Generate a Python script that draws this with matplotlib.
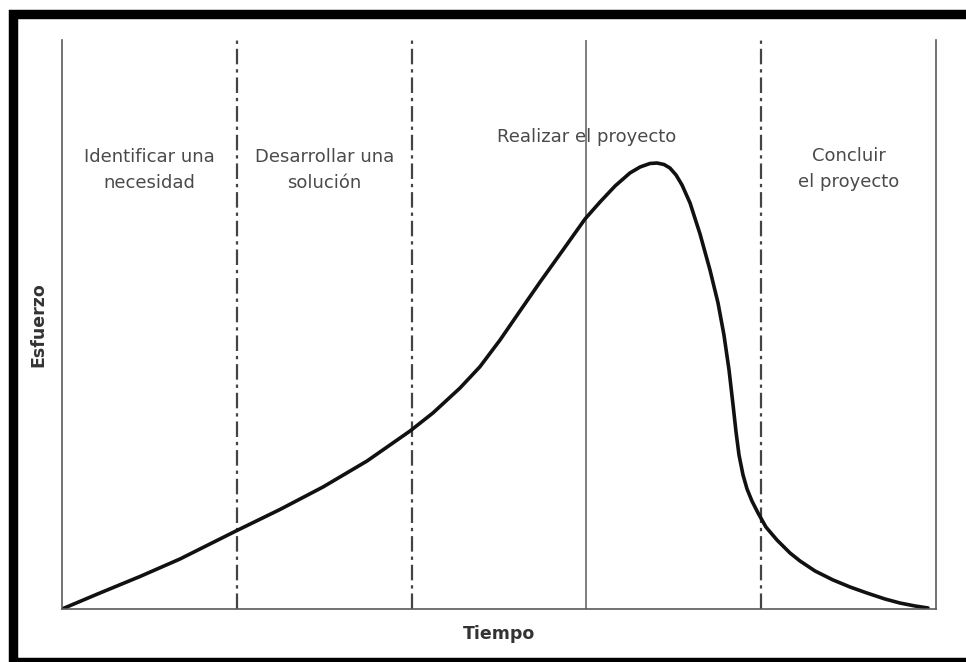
import matplotlib
matplotlib.use("Agg")
import matplotlib.pyplot as plt
from matplotlib import font_manager
from matplotlib.patches import Rectangle

# Curva de esfuerzo a lo largo del tiempo (5 fases de ancho 1)
tiempo = [0.000, 0.217, 0.446, 0.675, 0.995, 1.247, 1.493, 1.745, 1.991, 2.122,
          2.277, 2.391, 2.506, 2.620, 2.735, 2.866, 2.992, 3.078, 3.164, 3.249,
          3.307, 3.364, 3.404, 3.444, 3.478, 3.513, 3.547, 3.593, 3.650, 3.707,
          3.753, 3.787, 3.816, 3.839, 3.856, 3.873, 3.896, 3.919, 3.947, 3.982,
          4.027, 4.090, 4.165, 4.222, 4.308, 4.411, 4.508, 4.605, 4.708, 4.794,
          4.880, 4.954]
esfuerzo = [0.00, 2.81, 5.71, 8.79, 13.71, 17.49, 21.44, 26.01, 31.28, 34.45,
            38.84, 42.58, 47.28, 52.37, 57.47, 63.09, 68.54, 71.53, 74.34, 76.63,
            77.68, 78.30, 78.38, 78.12, 77.50, 76.27, 74.52, 71.35, 65.91, 59.58,
            53.78, 48.15, 42.00, 35.85, 31.11, 27.07, 23.55, 21.09, 18.98, 16.87,
            14.41, 12.13, 9.84, 8.44, 6.68, 5.10, 3.87, 2.81, 1.76, 1.05,
            0.53, 0.18]

# Limites de las fases
limites_dashdot = [1, 2, 4]
limite_solido = 3

# Etiquetas de las fases
fases = [["Identificar una", "necesidad"],
         ["Desarrollar una", "solución"],
         ["Realizar el proyecto"],
         ["Concluir", "el proyecto"]]
fase_x = [0.5, 1.5, 3.0, 4.5]

names = {f.name for f in font_manager.fontManager.ttflist}
fuente = "Liberation Sans Narrow" if "Liberation Sans Narrow" in names else "DejaVu Sans"
plt.rcParams["font.family"] = [fuente, "DejaVu Sans"]

fig = plt.figure(figsize=(9.66, 6.62), dpi=100)
ax = fig.add_axes([62 / 966, 53 / 662, 874 / 966, 569 / 662])

ax.set_xlim(0, 5)
ax.set_ylim(0, 100)

gris = "#5a5a5a"
for s in ["left", "bottom", "right"]:
    ax.spines[s].set_color(gris)
    ax.spines[s].set_linewidth(1.2)
ax.spines["top"].set_visible(False)
ax.set_xticks([])
ax.set_yticks([])

for x in limites_dashdot:
    ax.axvline(x, color="#444444", lw=1.6, linestyle=(0, (7, 2.2, 1.5, 2.2)))
ax.axvline(limite_solido, color=gris, lw=1.1)

ax.plot(tiempo, esfuerzo, color="#111111", lw=2.6,
        solid_capstyle="round", solid_joinstyle="round")

# textos de fases
col = "#4a4a4a"
ax.text(fase_x[0], 79.4, fases[0][0], ha="center", va="center", fontsize=13, color=col)
ax.text(fase_x[0], 74.9, fases[0][1], ha="center", va="center", fontsize=13, color=col)
ax.text(fase_x[1], 79.4, fases[1][0], ha="center", va="center", fontsize=13, color=col)
ax.text(fase_x[1], 74.9, fases[1][1], ha="center", va="center", fontsize=13, color=col)
ax.text(fase_x[2], 83.0, fases[2][0], ha="center", va="center", fontsize=13, color=col)
ax.text(fase_x[3], 79.6, fases[3][0], ha="center", va="center", fontsize=13, color=col)
ax.text(fase_x[3], 75.0, fases[3][1], ha="center", va="center", fontsize=13, color=col)

fig.text(499 / 966, 1 - 634 / 662, "Tiempo", ha="center", va="center",
         fontsize=12.5, fontweight="bold", color="#333333")
fig.text(38 / 966, 1 - 325 / 662, "Esfuerzo", ha="center", va="center",
         rotation=90, fontsize=12.5, fontweight="bold", color="#333333")

# marco negro
fig.patches.append(Rectangle((12.5 / 966, 0.5 / 662), 1.1, 647.5 / 662,
                             transform=fig.transFigure, fill=False,
                             edgecolor="black", lw=6.8, clip_on=False))

fig.savefig("out.png", dpi=100)
